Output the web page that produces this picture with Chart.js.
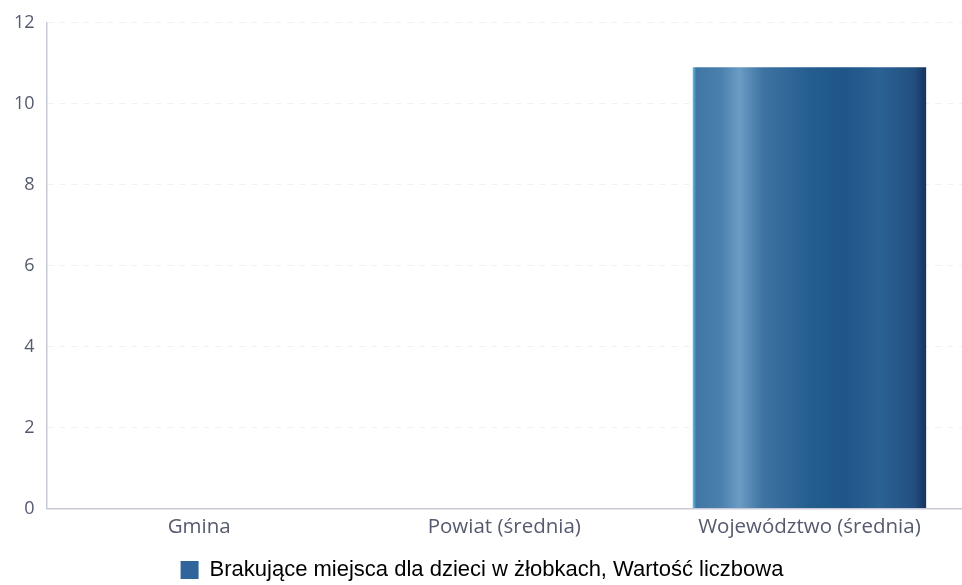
<!DOCTYPE html>
<html><head><meta charset="utf-8">
<script src="https://cdn.jsdelivr.net/npm/chart.js@4"></script>
<style>html,body{margin:0;padding:0;background:#fff}#wrap{width:962px;height:585px}</style>
</head><body><div id="wrap"><canvas id="c"></canvas></div>
<script>
const categories = ["Gmina", "Powiat (średnia)", "Województwo (średnia)"];
const seriesLabel = "Brakujące miejsca dla dzieci w żłobkach, Wartość liczbowa";
const values = [0, 0, 10.9];
const yTicks = [0, 2, 4, 6, 8, 10, 12];

const CAT_PCT = 0.85, BAR_PCT = 0.9;
function barGradient(ctx) {
  const chart = ctx.chart;
  const x = chart.scales.x;
  if (!x || !chart.chartArea) return '#2a5f8f';
  const i = ctx.dataIndex;
  const cw = (x.right - x.left) / categories.length;
  const w = cw * CAT_PCT * BAR_PCT;
  const c = x.getPixelForValue(i);
  const g = chart.ctx.createLinearGradient(c - w / 2, 0, c + w / 2, 0);
  g.addColorStop(0, '#5fc3e6');
  g.addColorStop(0.015, '#3f76a3');
  g.addColorStop(0.12, '#4a80ad');
  g.addColorStop(0.2, '#6b9cc4');
  g.addColorStop(0.3, '#3e74a3');
  g.addColorStop(0.5, '#245d8f');
  g.addColorStop(0.65, '#1f5588');
  g.addColorStop(0.8, '#2b6294');
  g.addColorStop(0.95, '#224f80');
  g.addColorStop(1, '#17325e');
  return g;
}

new Chart(document.getElementById('c'), {
  type: 'bar',
  data: {
    labels: categories,
    datasets: [{
      label: seriesLabel,
      data: values,
      backgroundColor: barGradient,
      borderWidth: 0,
      categoryPercentage: CAT_PCT,
      barPercentage: BAR_PCT
    }]
  },
  options: {
    responsive: true,
    maintainAspectRatio: false,
    animation: false,
    layout: { padding: { top: 5, right: 0, left: 2, bottom: -6 } },
    plugins: {
      tooltip: { enabled: false },
      legend: {
        position: 'bottom',
        labels: {
          font: { family: 'Liberation Sans, Arial, sans-serif', size: 22 },
          color: '#111',
          boxWidth: 18,
          boxHeight: 18,
          padding: 6,
          generateLabels: (chart) => [{
            text: seriesLabel,
            fillStyle: '#2f659a',
            strokeStyle: '#2f659a',
            lineWidth: 0,
            datasetIndex: 0
          }]
        }
      }
    },
    scales: {
      x: {
        grid: { display: false, drawTicks: false },
        border: { display: true, color: '#c8cad6', width: 1.5 },
        ticks: { color: '#555a6e', font: { family: 'Open Sans, sans-serif', size: 20.5 }, padding: 6 },
        afterFit: (scale) => { scale.height += 8; }
      },
      y: {
        min: 0, max: 12,
        afterBuildTicks: (axis) => { axis.ticks = yTicks.map(v => ({ value: v })); },
        grid: { color: '#f1f1f4', drawTicks: false, lineWidth: 1 },
        border: { display: true, color: '#c8cad6', width: 1.5, dash: [6, 6] },
        ticks: { color: '#555a6e', font: { family: 'Open Sans, sans-serif', size: 18 }, padding: 12 }
      }
    }
  }
});
</script></body></html>
